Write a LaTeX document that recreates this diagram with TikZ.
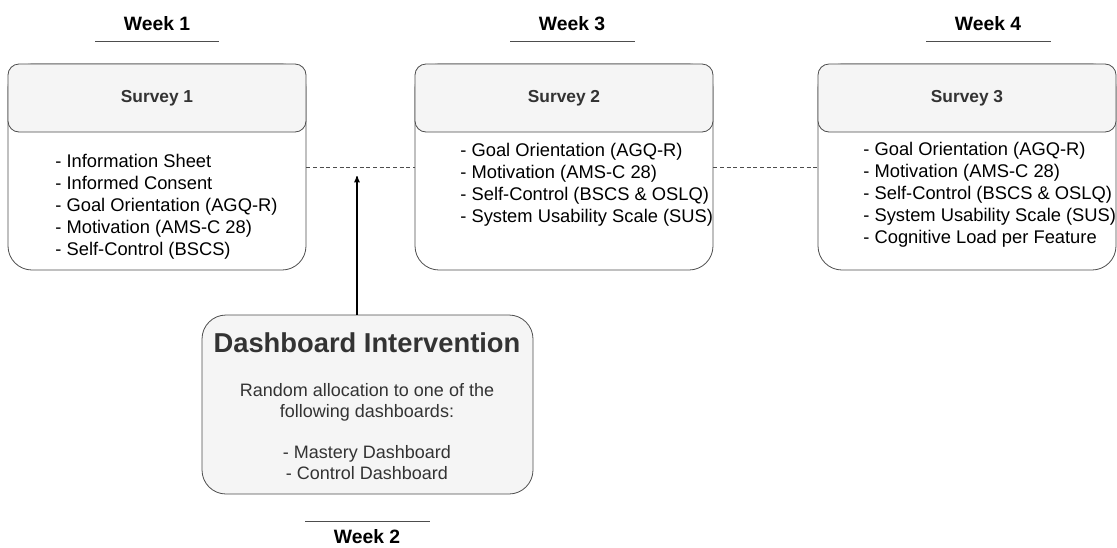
\documentclass[tikz,border=0pt]{standalone}
\usepackage{fontspec}
\setmainfont{Liberation Sans}
\usepackage{tikz}
\usetikzlibrary{arrows}
\newcommand\U{0.75pt}
\definecolor{edgegray}{HTML}{4D4D4D}
\definecolor{headgray}{HTML}{F5F5F5}
\definecolor{textgray}{HTML}{333333}

\begin{document}
\begin{tikzpicture}[x=\U,y=-\U,->,>=stealth',semithick]

  \tikzstyle{body}=[draw=edgegray,fill=white,rounded corners=24*\U,
                    minimum width=298*\U,minimum height=206*\U,inner sep=0pt]
  \tikzstyle{head}=[draw=edgegray,fill=headgray,rounded corners=11*\U,
                    minimum width=298*\U,minimum height=68*\U,inner sep=0pt,
                    text=textgray,font=\fontsize{13}{15}\selectfont\bfseries]
  \tikzstyle{items}=[align=left,anchor=west,inner sep=0pt,
                     font=\fontsize{13.75}{16.5}\selectfont]
  \tikzstyle{week}=[font=\fontsize{14.5}{16}\selectfont\bfseries,inner sep=0pt]
  \tikzstyle{wline}=[-,draw=edgegray,thin]
  \tikzstyle{gapline}=[-,draw=edgegray,thin,dash pattern=on 3pt off 2pt]

  \useasboundingbox (0,0) rectangle (1117,547);

  % weeks
  \node[week] (W1) at (157,24)  {Week 1};
  \node[week] (W3) at (572,24)  {Week 3};
  \node[week] (W4) at (988,24)  {Week 4};
  \node[week] (W2) at (367,537) {Week 2};
  \draw[wline] (95,41)  -- (219,41);
  \draw[wline] (510,41) -- (635,41);
  \draw[wline] (926,41) -- (1051,41);
  \draw[wline] (305,521) -- (430,521);

  % surveys
  \node[body] (S1) at (157,167)  {};
  \node[body] (S2) at (564,167)  {};
  \node[body] (S3) at (967,167)  {};
  \node[head] (H1) at (157,98)   {Survey 1};
  \node[head] (H2) at (564,98)   {Survey 2};
  \node[head] (H3) at (967,98)   {Survey 3};

  \node[items] (L1) at (55,207)  {- Information Sheet \\ - Informed Consent \\
                                  - Goal Orientation (AGQ-R) \\ - Motivation (AMS-C 28) \\
                                  - Self-Control (BSCS)};
  \node[items] (L2) at (460,185) {- Goal Orientation (AGQ-R) \\ - Motivation (AMS-C 28) \\
                                  - Self-Control (BSCS \& OSLQ) \\
                                  - System Usability Scale (SUS)};
  \node[items] (L3) at (863,195) {- Goal Orientation (AGQ-R) \\ - Motivation (AMS-C 28) \\
                                  - Self-Control (BSCS \& OSLQ) \\
                                  - System Usability Scale (SUS) \\
                                  - Cognitive Load per Feature};

  % intervention
  \node[draw=edgegray,fill=headgray,rounded corners=24*\U,minimum width=331*\U,
        minimum height=179*\U,inner sep=0pt] (D) at (367.5,404.5) {};
  \node[text=textgray,font=\fontsize{20.5}{23}\selectfont\bfseries,inner sep=0pt]
        (DT) at (367,343) {Dashboard Intervention};
  \node[text=textgray,align=center,inner sep=0pt,font=\fontsize{13.5}{15.75}\selectfont]
        (DB) at (367,432) {Random allocation to one of the \\ following dashboards: \\[15pt]
                           - Mastery Dashboard \\ - Control Dashboard};
  \coordinate (tip) at (357,176);

  \path
  (S1) edge [gapline] (S2)
  (S2) edge [gapline] (S3)
  (D.north -| tip) edge [draw=black,thick] (tip)
  ;
\end{tikzpicture}
\end{document}
